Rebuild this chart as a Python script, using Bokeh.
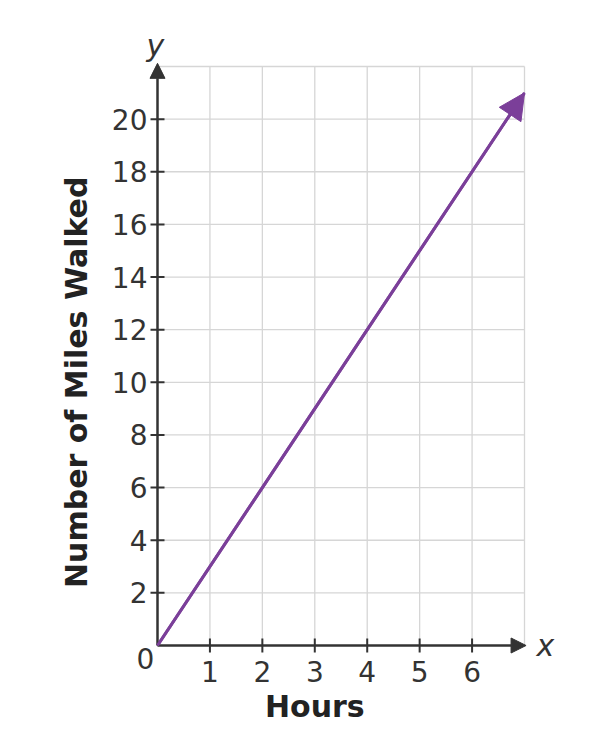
import math
from bokeh.plotting import figure
from bokeh.models import Arrow, NormalHead, Range1d
from bokeh.core.properties import value
from bokeh.embed import file_html
from bokeh.resources import INLINE

# ---- data ----
hours = [0, 7]
miles = [0, 21]
x_ticks = [1, 2, 3, 4, 5, 6]
x_tick_labels = ["1", "2", "3", "4", "5", "6"]
y_ticks = [2, 4, 6, 8, 10, 12, 14, 16, 18, 20]
y_tick_labels = ["2", "4", "6", "8", "10", "12", "14", "16", "18", "20"]
x_grid = [1, 2, 3, 4, 5, 6, 7]
y_grid = [2, 4, 6, 8, 10, 12, 14, 16, 18, 20, 22]
x_max = 7
y_max = 22
x_title = "Hours"
y_title = "Number of Miles Walked"

# ---- layout / style ----
FONT = "DejaVu Sans"
AX = "#333333"
PURPLE = "#7B3F99"
GRID = "#d6d6d6"
FW, FH = 600, 750
ORIG_X, ORIG_Y = 157, 645      # pixel of (0,0)
RIGHT_X, TOP_Y = 524, 66       # pixel of (x_max, y_max)
sx = (RIGHT_X - ORIG_X) / x_max
sy = (ORIG_Y - TOP_Y) / y_max
x0 = -ORIG_X / sx
y1 = y_max + TOP_Y / sy

p = figure(frame_width=FW, frame_height=FH, min_border=0,
           x_range=Range1d(x0, x0 + FW / sx), y_range=Range1d(y1 - FH / sy, y1),
           x_axis_location=None, y_axis_location=None,
           output_backend="svg", toolbar_location=None)
p.outline_line_color = None
p.grid.visible = False
p.background_fill_color = "white"
p.border_fill_color = "white"

# grid
p.segment(x0=x_grid, y0=[0] * len(x_grid), x1=x_grid, y1=[y_max] * len(x_grid),
          line_color=GRID, line_width=1.3)
p.segment(x0=[0] * len(y_grid), y0=y_grid, x1=[x_max] * len(y_grid), y1=y_grid,
          line_color=GRID, line_width=1.3)

# axes with arrowheads
p.add_layout(Arrow(x_start=0, y_start=0, x_end=x_max + 0.03, y_end=0, line_color=AX, line_width=2.5,
                   end=NormalHead(size=15, fill_color=AX, line_color=AX, line_width=1)))
p.add_layout(Arrow(x_start=0, y_start=0, x_end=0, y_end=y_max + 0.12, line_color=AX, line_width=2.5,
                   end=NormalHead(size=15, fill_color=AX, line_color=AX, line_width=1)))

# tick marks
p.scatter(x=x_ticks, y=[0] * len(x_ticks), marker="dash", size=14, angle=math.pi / 2,
          line_color=AX, line_width=2)
p.scatter(x=[0] * len(y_ticks), y=y_ticks, marker="dash", size=14,
          line_color=AX, line_width=2)

# tick labels
p.text(x=x_ticks, y=[0] * len(x_ticks), text=x_tick_labels, y_offset=26,
       text_align="center", text_baseline="middle", text_font=value(FONT),
       text_font_size=value("28px"), text_color=AX)
p.text(x=[0] * len(y_ticks), y=y_ticks, text=y_tick_labels, x_offset=-10,
       text_align="right", text_baseline="middle", text_font=value(FONT),
       text_font_size=value("28px"), text_color=AX)
p.text(x=[0], y=[0], text=["0"], x_offset=-12, y_offset=13,
       text_align="center", text_baseline="middle", text_font=value(FONT),
       text_font_size=value("28px"), text_color=AX)

# axis titles
p.text(x=[3], y=[0], text=[x_title], y_offset=61,
       text_align="center", text_baseline="middle", text_font=value(FONT),
       text_font_size=value("30px"), text_font_style="bold", text_color="#222222")
p.text(x=[0], y=[10], text=[y_title], x_offset=-81, angle=math.pi / 2,
       text_align="center", text_baseline="middle", text_font=value(FONT),
       text_font_size=value("30px"), text_font_style="bold", text_color="#222222")
p.text(x=[x_max], y=[0], text=["x"], x_offset=21,
       text_align="center", text_baseline="middle", text_font=value(FONT),
       text_font_size=value("30px"), text_font_style="italic", text_color=AX)
p.text(x=[0], y=[y_max], text=["y"], x_offset=-2, y_offset=-21,
       text_align="center", text_baseline="middle", text_font=value(FONT),
       text_font_size=value("30px"), text_font_style="italic", text_color=AX)

# data line with arrow
p.line(hours, miles, line_color=PURPLE, line_width=3)
p.add_layout(Arrow(x_start=hours[-2], y_start=miles[-2], x_end=hours[-1], y_end=miles[-1],
                   line_color=PURPLE, line_width=3,
                   end=NormalHead(size=26, fill_color=PURPLE, line_color=PURPLE, line_width=1)))

open("out.html", "w").write(file_html(p, INLINE))
